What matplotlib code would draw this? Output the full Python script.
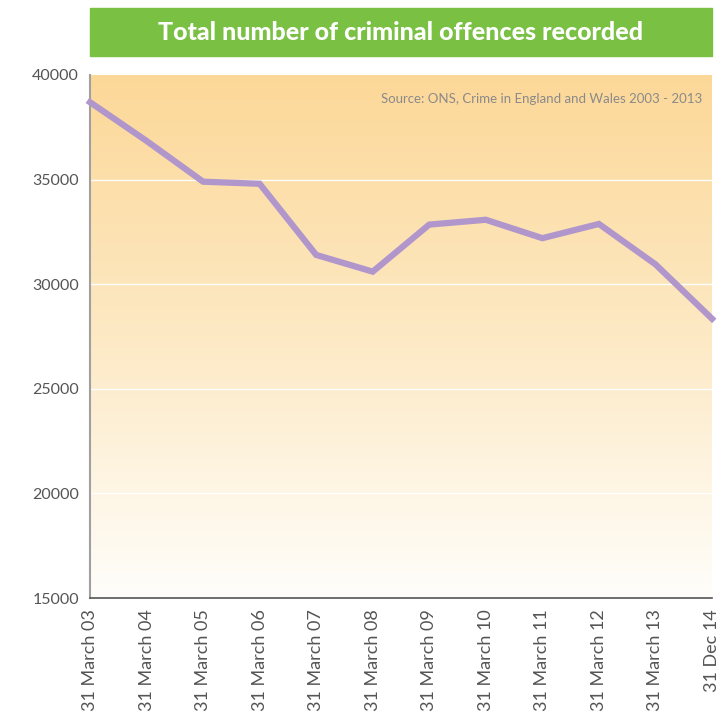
import numpy as np
import matplotlib.pyplot as plt
from matplotlib.colors import LinearSegmentedColormap
from matplotlib.patches import Rectangle

labels = ["31 March 03", "31 March 04", "31 March 05", "31 March 06", "31 March 07",
          "31 March 08", "31 March 09", "31 March 10", "31 March 11", "31 March 12",
          "31 March 13", "31 Dec 14"]
offences = [38700, 36850, 34900, 34800, 31400, 30600, 32850, 33080, 32200, 32880, 30950, 28350]
yticks = [15000, 20000, 25000, 30000, 35000, 40000]

plt.rcParams['font.family'] = ['Lato', 'DejaVu Sans']

fig = plt.figure(figsize=(7.24, 7.15), dpi=100)
ax = fig.add_axes([90/724, 1-598/715, 622/724, 523/715])

x = np.arange(len(labels))
ax.set_xlim(0, len(labels)-1)
ax.set_ylim(15000, 40000)

# gradient background, orange on top fading to white
cmap = LinearSegmentedColormap.from_list("bg", ["#fffefb", "#fde9c4", "#fcd898"])
grad = np.linspace(0, 1, 256).reshape(-1, 1)
ax.imshow(grad, aspect="auto", cmap=cmap, origin="lower",
          extent=[0, len(labels)-1, 15000, 40000], zorder=0)

for t in yticks[1:-1]:
    ax.axhline(t, color="white", lw=1, zorder=1)

ax.plot(x, offences, color="#b096cb", lw=4.5, solid_joinstyle="miter", zorder=3, clip_on=False)

ax.set_xticks(x)
ax.set_xticklabels(labels, rotation=90, fontsize=13, color="#555555")
ax.set_yticks(yticks)
ax.set_yticklabels([str(t) for t in yticks], fontsize=11.5, color="#555555")
ax.tick_params(length=0, pad=8)
ax.tick_params(axis="x", pad=8)

for s in ["top", "right"]:
    ax.spines[s].set_visible(False)
ax.spines["left"].set_color("#a0a0a0")
ax.spines["left"].set_linewidth(1.5)
ax.spines["bottom"].set_color("#555555")
ax.spines["bottom"].set_linewidth(1.2)

ax.text(0.985, 0.965, "Source: ONS, Crime in England and Wales 2003 - 2013",
        transform=ax.transAxes, ha="right", va="top", fontsize=9.5, color="#8a8a8a")

# green title band
fig.patches.append(Rectangle((90/724, 1-56/715), 622/724, 48/715,
                             transform=fig.transFigure, color="#79c043", zorder=0))
fig.text(401/724, 1-32/715, "Total number of criminal offences recorded",
         ha="center", va="center", fontsize=18, fontweight="black", color="white")

fig.savefig("out.png", dpi=100)
